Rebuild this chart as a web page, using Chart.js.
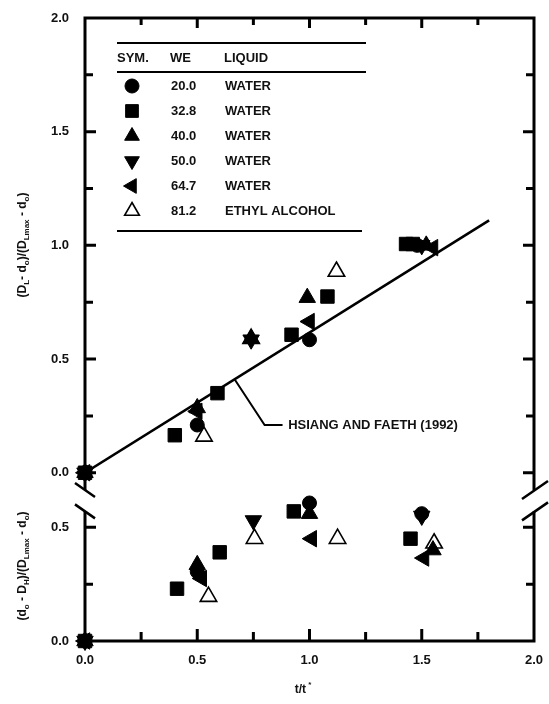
<!DOCTYPE html>
<html>
<head>
<meta charset="utf-8">
<script src="https://cdn.jsdelivr.net/npm/chart.js"></script>
<style>
  body { margin: 0; background: #fff; }
  canvas { display: block; }
</style>
</head>
<body>
<canvas id="myChart" width="549" height="704" style="width:549px;height:704px"></canvas>
<script>
// legend table
var weNums = ['20.0', '32.8', '40.0', '50.0', '64.7', '81.2'];
var liquids = ['WATER', 'WATER', 'WATER', 'WATER', 'WATER', 'ETHYL ALCOHOL'];

// upper panel (D_L - d_o)/(D_Lmax - d_o)
var upX = [
  [0, 0.50, 1.00, 1.48],
  [0, 0.40, 0.59, 0.92, 1.08, 1.43, 1.46],
  [0, 0.50, 0.74, 0.99, 1.52],
  [0, 0.74, 1.50],
  [0, 0.50, 1.00, 1.55],
  [0.53, 0.74, 1.12]
];
var upY = [
  [0, 0.21, 0.585, 1.0],
  [0, 0.165, 0.35, 0.607, 0.775, 1.006, 1.006],
  [0, 0.285, 0.59, 0.77, 1.0],
  [0, 0.585, 1.0],
  [0, 0.27, 0.665, 0.99],
  [0.16, 0.59, 0.885]
];

// lower panel (d_o - D_H)/(D_Lmax - d_o)
var lowX = [
  [0, 0.50, 1.00, 1.50],
  [0, 0.41, 0.60, 0.93, 1.45],
  [0, 0.50, 1.00, 1.55],
  [0, 0.75, 1.50],
  [0, 0.52, 1.01, 1.51],
  [0.55, 0.755, 1.125, 1.555]
];
var lowY = [
  [0, 0.305, 0.607, 0.56],
  [0, 0.23, 0.39, 0.57, 0.45],
  [0, 0.335, 0.56, 0.40],
  [0, 0.53, 0.55],
  [0, 0.275, 0.45, 0.365],
  [0.195, 0.45, 0.45, 0.43]
];

// Hsiang and Faeth (1992) correlation
var fitX = [0, 1.80];
var fitY = [0, 1.11];
var leaderX = [0.667, 0.80, 0.88];
var leaderY = [0.41, 0.21, 0.21];
var fitLabel = 'HSIANG AND FAETH (1992)';
var fitLabelAt = [0.905, 0.21];

var xTicks = [0, 0.25, 0.5, 0.75, 1.0, 1.25, 1.5, 1.75, 2.0];
var upTicks = [0, 0.25, 0.5, 0.75, 1.0, 1.25, 1.5, 1.75, 2.0];
var lowTicks = [0, 0.25, 0.5];

var styles = [
  { ps: 'circle', r: 7, rot: 0, fill: '#000' },
  { ps: 'rect', r: 9.5, rot: 0, fill: '#000' },
  { ps: 'triangle', r: 9.5, rot: 0, fill: '#000' },
  { ps: 'triangle', r: 9.5, rot: 180, fill: '#000' },
  { ps: 'triangle', r: 9.5, rot: 270, fill: '#000' },
  { ps: 'triangle', r: 9.5, rot: 0, fill: '#fff' }
];

var FONT = '"Liberation Sans", Arial, sans-serif';
var INK = '#111';

function pts(xa, ya) {
  return xa.map(function (x, i) { return { x: x, y: ya[i] }; });
}

var datasets = [];
for (var i = 0; i < styles.length; i++) {
  var s = styles[i];
  [['yU', upX[i], upY[i]], ['yL', lowX[i], lowY[i]]].forEach(function (p) {
    datasets.push({
      data: pts(p[1], p[2]),
      yAxisID: p[0],
      showLine: false,
      pointStyle: s.ps,
      pointRadius: s.r,
      pointHoverRadius: s.r,
      pointRotation: s.rot,
      pointBackgroundColor: s.fill,
      pointBorderColor: '#000',
      pointBorderWidth: s.fill === '#fff' ? 1.6 : 1,
      clip: false,
      order: s.fill === '#fff' ? 1 : 0
    });
  });
}
datasets.push({
  data: pts(fitX, fitY), yAxisID: 'yU', showLine: true, pointRadius: 0,
  borderColor: '#000', borderWidth: 2.6, order: 5
});
datasets.push({
  data: pts(leaderX, leaderY), yAxisID: 'yU', showLine: true, pointRadius: 0,
  borderColor: '#000', borderWidth: 2, order: 5
});

function tickFmt(v) {
  return Math.abs(v * 2 - Math.round(v * 2)) < 1e-6 ? v.toFixed(1) : '';
}
var tickFont = { family: FONT, size: 13, weight: 'bold' };

function noPad(s) {
  s.paddingLeft = 0; s.paddingRight = 0; s.paddingTop = 0; s.paddingBottom = 0;
}

function marker(ctx, s, x, y) {
  ctx.save();
  ctx.translate(x, y);
  ctx.rotate(s.rot * Math.PI / 180);
  ctx.beginPath();
  if (s.ps === 'circle') {
    ctx.arc(0, 0, s.r, 0, Math.PI * 2);
  } else if (s.ps === 'rect') {
    var h = s.r * Math.SQRT1_2;
    ctx.rect(-h, -h, 2 * h, 2 * h);
  } else {
    for (var k = 0; k < 3; k++) {
      var a = k * 2 * Math.PI / 3;
      ctx[k ? 'lineTo' : 'moveTo'](Math.sin(a) * s.r, -Math.cos(a) * s.r);
    }
    ctx.closePath();
  }
  ctx.fillStyle = s.fill;
  ctx.fill();
  ctx.lineWidth = s.fill === '#fff' ? 1.6 : 1;
  ctx.strokeStyle = '#000';
  ctx.stroke();
  ctx.restore();
}

// text with subscripts, drawn centered at 0,0 in current transform
function richText(ctx, parts, size) {
  var big = 'bold ' + size + 'px ' + FONT;
  var small = 'bold ' + Math.round(size * 0.7) + 'px ' + FONT;
  var w = 0;
  parts.forEach(function (p) { ctx.font = p[1] ? small : big; w += ctx.measureText(p[0]).width; });
  var x = -w / 2;
  ctx.textAlign = 'left';
  ctx.textBaseline = 'middle';
  parts.forEach(function (p) {
    ctx.font = p[1] ? small : big;
    ctx.fillText(p[0], x, p[1] === 1 ? size * 0.3 : (p[1] === 2 ? -size * 0.45 : 0));
    x += ctx.measureText(p[0]).width;
  });
}

var frame = {
  id: 'frame',
  afterDraw: function (chart) {
    var ctx = chart.ctx;
    var xs = chart.scales.x, yU = chart.scales.yU, yL = chart.scales.yL;
    var L = xs.left, R = xs.right, T = yU.top, B = yL.bottom;
    var upEnd = yU.bottom - 1;
    var lowStart = yL.getPixelForValue(0.57);
    ctx.save();
    ctx.strokeStyle = '#000';
    ctx.lineCap = 'butt';
    ctx.lineWidth = 3;
    ctx.beginPath();
    ctx.moveTo(L, upEnd); ctx.lineTo(L, T); ctx.lineTo(R, T); ctx.lineTo(R, upEnd);
    ctx.moveTo(L, lowStart); ctx.lineTo(L, B); ctx.lineTo(R, B); ctx.lineTo(R, lowStart);
    ctx.stroke();

    // break marks
    ctx.lineWidth = 2.5;
    ctx.beginPath();
    [upEnd, lowStart].forEach(function (c) {
      ctx.moveTo(L - 10, c - 7); ctx.lineTo(L + 10, c + 7);
      ctx.moveTo(R - 12, c + 9); ctx.lineTo(R + 14, c - 9);
    });
    ctx.stroke();

    // inward ticks
    ctx.lineWidth = 3;
    ctx.beginPath();
    xTicks.forEach(function (v) {
      if (v <= 0 || v >= 2) return;
      var px = xs.getPixelForValue(v);
      var major = tickFmt(v) !== '';
      ctx.moveTo(px, T); ctx.lineTo(px, T + (major ? 10 : 7));
      ctx.moveTo(px, B); ctx.lineTo(px, B - (major ? 12 : 9));
    });
    [[yU, upTicks], [yL, lowTicks]].forEach(function (p) {
      p[1].forEach(function (v) {
        var py = p[0].getPixelForValue(v);
        if (py <= T + 1 || py >= B - 1) return;
        var len = tickFmt(v) !== '' ? 11 : 8;
        ctx.moveTo(L, py); ctx.lineTo(L + len, py);
        ctx.moveTo(R, py); ctx.lineTo(R - len, py);
      });
    });
    ctx.stroke();

    // legend table
    ctx.lineWidth = 2;
    ctx.beginPath();
    ctx.moveTo(117, 43); ctx.lineTo(366, 43);
    ctx.moveTo(117, 72); ctx.lineTo(366, 72);
    ctx.moveTo(117, 231); ctx.lineTo(362, 231);
    ctx.stroke();
    ctx.fillStyle = INK;
    ctx.font = 'bold 13px ' + FONT;
    ctx.textBaseline = 'middle';
    ctx.textAlign = 'left';
    ctx.fillText('SYM.', 117, 58);
    ctx.fillText('WE', 170, 58);
    ctx.fillText('LIQUID', 224, 58);
    for (var i = 0; i < styles.length; i++) {
      var ry = 86 + i * 25;
      var s = Object.assign({}, styles[i]);
      s.r = s.ps === 'circle' ? 7 : (s.ps === 'rect' ? 9 : 8.5);
      marker(ctx, s, 132, ry);
      ctx.fillStyle = INK;
      ctx.fillText(weNums[i], 171, ry);
      ctx.fillText(liquids[i], 225, ry);
    }

    // correlation label
    ctx.fillText(fitLabel, xs.getPixelForValue(fitLabelAt[0]), yU.getPixelForValue(fitLabelAt[1]));

    // axis titles
    ctx.save();
    ctx.translate(23, 245);
    ctx.rotate(-Math.PI / 2);
    richText(ctx, [['(D', 0], ['L', 1], ['- d', 0], ['o', 1], [')/(D', 0], ['Lmax', 1], [' - d', 0], ['o', 1], [')', 0]], 12);
    ctx.restore();
    ctx.save();
    ctx.translate(23, 566);
    ctx.rotate(-Math.PI / 2);
    richText(ctx, [['(d', 0], ['o', 1], [' - D', 0], ['H', 1], [')/(D', 0], ['Lmax', 1], [' - d', 0], ['o', 1], [')', 0]], 12);
    ctx.restore();
    ctx.save();
    ctx.translate(303, 690);
    richText(ctx, [['t/t', 0], [' *', 2]], 12);
    ctx.restore();
    ctx.restore();
  }
};

var chart1 = new Chart(document.getElementById('myChart').getContext('2d'), {
  type: 'scatter',
  data: { datasets: datasets },
  plugins: [frame],
  options: {
    responsive: false,
    animation: false,
    devicePixelRatio: 1,
    layout: { padding: { top: 18, right: 15, left: 0, bottom: 0 } },
    plugins: { legend: { display: false }, tooltip: { enabled: false } },
    scales: {
      x: {
        type: 'linear', min: 0, max: 2,
        grid: { display: false, drawTicks: false }, border: { display: false },
        afterBuildTicks: function (ax) { ax.ticks = xTicks.map(function (v) { return { value: v }; }); },
        ticks: { autoSkip: false, maxRotation: 0, padding: 12, color: INK, font: tickFont, callback: tickFmt },
        afterFit: function (s) { s.height = 63; noPad(s); }
      },
      yL: {
        type: 'linear', position: 'left', stack: 'y', stackWeight: 0.66, min: 0, max: 0.66,
        grid: { display: false, drawTicks: false }, border: { display: false },
        afterBuildTicks: function (ax) { ax.ticks = lowTicks.map(function (v) { return { value: v }; }); },
        ticks: { autoSkip: false, padding: 16, color: INK, font: tickFont, callback: tickFmt },
        afterFit: function (s) { s.width = 85; noPad(s); }
      },
      yU: {
        type: 'linear', position: 'left', stack: 'y', stackWeight: 2.08, min: -0.08, max: 2.0,
        grid: { display: false, drawTicks: false }, border: { display: false },
        afterBuildTicks: function (ax) { ax.ticks = upTicks.map(function (v) { return { value: v }; }); },
        ticks: { autoSkip: false, padding: 16, color: INK, font: tickFont, callback: tickFmt },
        afterFit: function (s) { s.width = 85; noPad(s); }
      }
    }
  }
});
</script>
</body>
</html>
